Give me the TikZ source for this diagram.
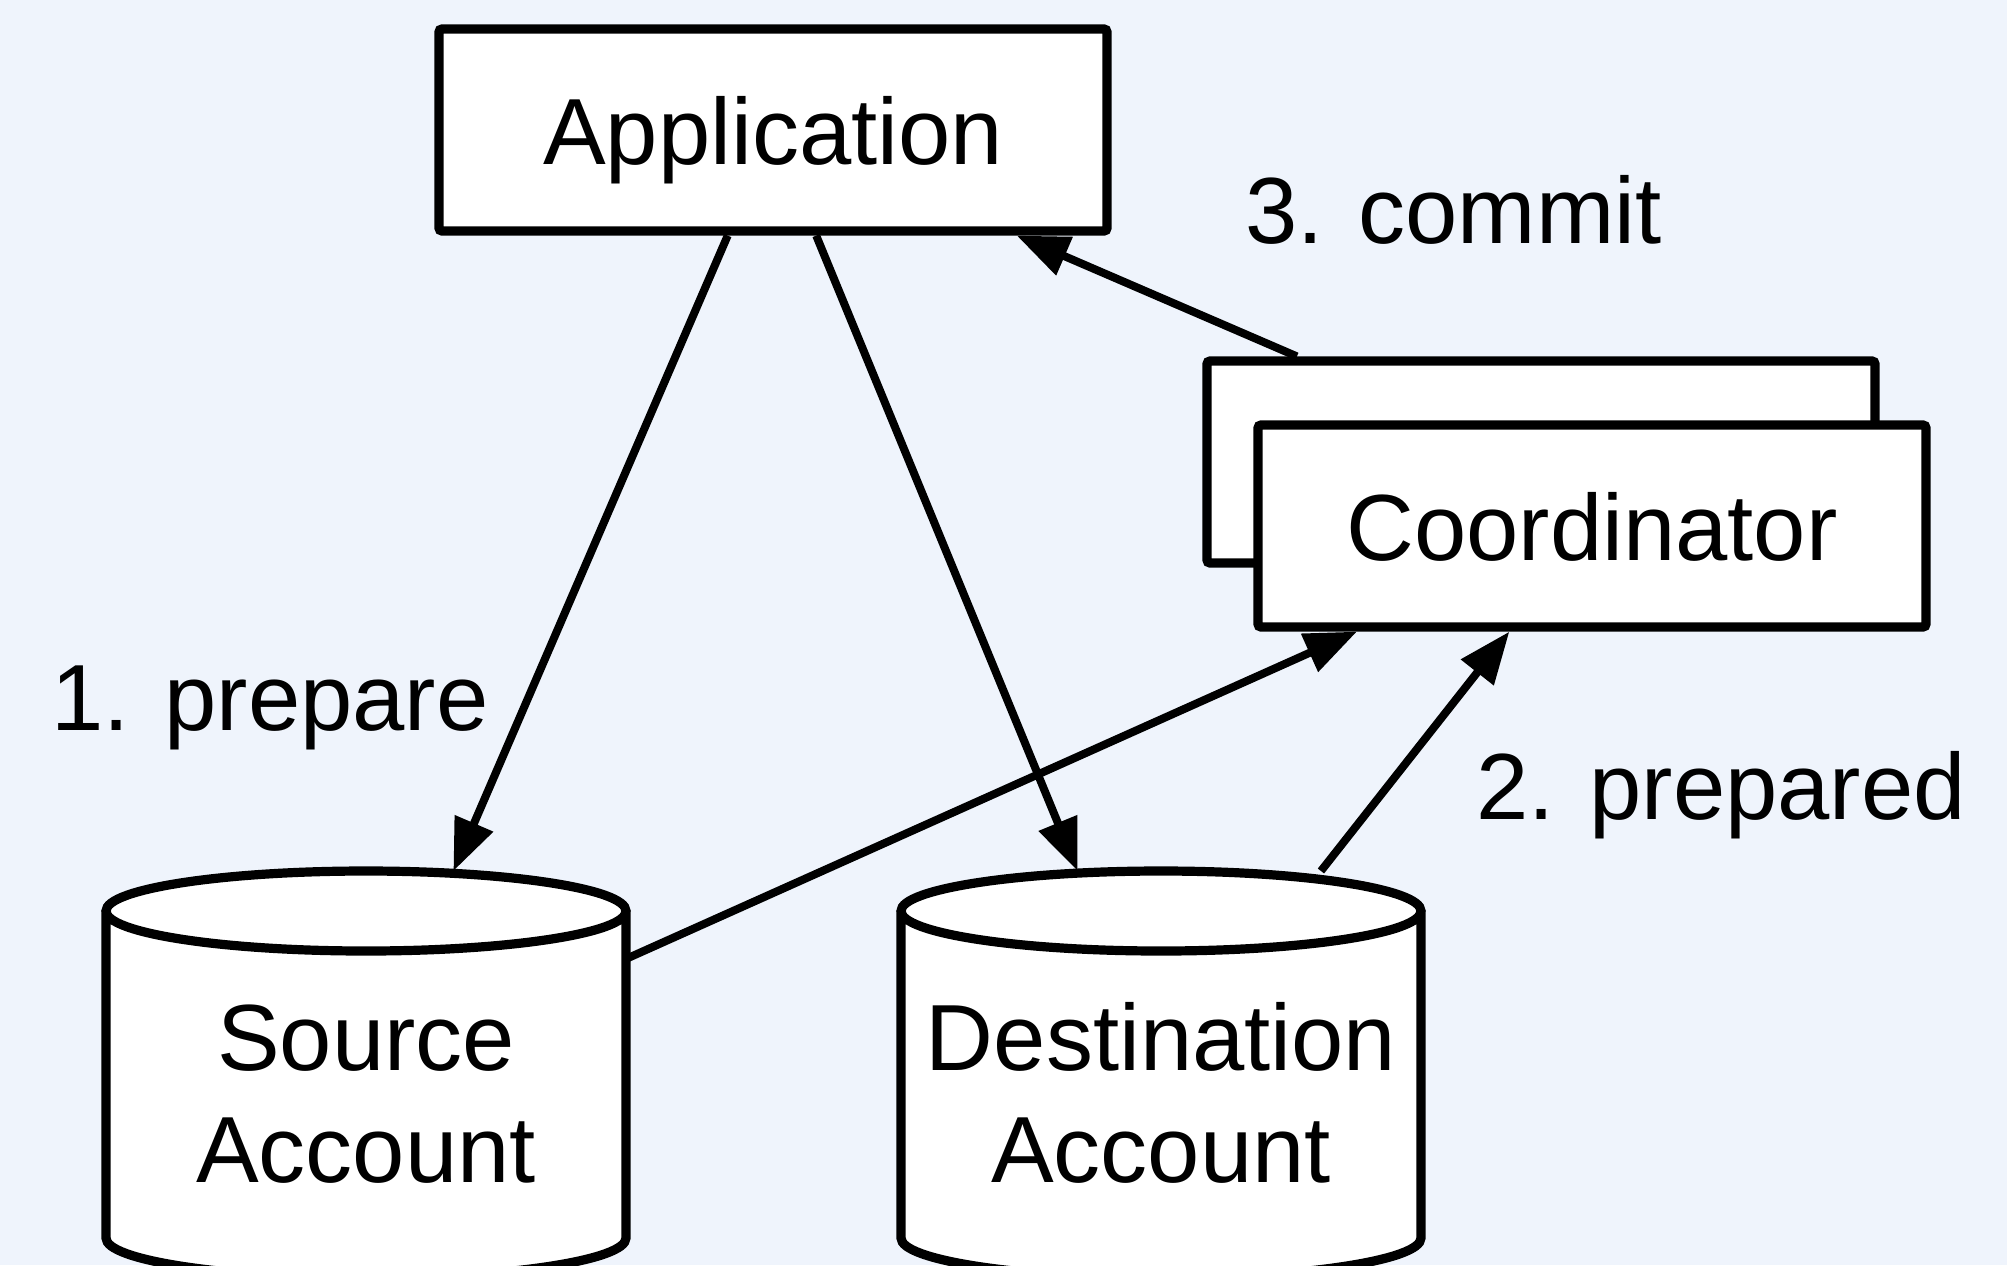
\documentclass[tikz,border=0pt]{standalone}
\usepackage{fontspec}
\setmainfont{Liberation Sans}
\usetikzlibrary{arrows.meta}
\definecolor{bgblue}{RGB}{239,244,252}

\tikzset{
  box/.style={draw,fill=white,line width=4.6pt,rounded corners=1.5pt,
    minimum width=334pt,minimum height=101pt,inner sep=0pt,text depth=0pt},
  drum/.style={draw,fill=white,line width=4.6pt},
  store/.style={minimum width=260pt,minimum height=204pt,outer sep=0pt,
    align=center,inner sep=0pt,text height=108pt},
  msg/.style={-{Triangle[length=26pt,width=20pt]},line width=4pt},
  lbl/.style={anchor=base west,inner sep=0pt}
}

\begin{document}
\begin{tikzpicture}[x=0.5pt,y=-0.5pt,font=\fontsize{47}{56}\selectfont]
  \fill[bgblue] (0,0) rectangle (2007,1265);
  \useasboundingbox (0,0) rectangle (2007,1265);

  % account drums (outlines only, text comes below)
  \foreach \cx in {366,1161}
    \filldraw[drum] (\cx-260,911) -- (\cx-260,1238)
      arc[start angle=180,end angle=360,x radius=130pt,y radius=20pt]
      -- (\cx+260,911)
      arc[start angle=0,end angle=180,x radius=130pt,y radius=20pt]
      -- cycle
      (\cx,911) ellipse[x radius=130pt,y radius=20pt];

  \node[store] (src) at (366,1075) {Source\\Account};
  \node[store] (dst) at (1161,1075) {Destination\\Account};

  % boxes
  \node[box] (app) at (773,130) {Application};
  \node[box] (coordback) at (1541,462) {};
  \node[box] (coord) at (1592,526) {Coordinator};

  \draw[msg] (app) -- (src);
  \draw[msg] (app) -- (dst);
  \draw[msg] (src) -- (coord);
  \draw[msg] (dst) -- (coord);
  \draw[msg] (coordback) -- (app);

  \node[lbl] (prep) at (51,730) {1. prepare};
  \node[lbl] (prepd) at (1476,819) {2. prepared};
  \node[lbl] (cmt) at (1245,243) {3. commit};
\end{tikzpicture}
\end{document}
